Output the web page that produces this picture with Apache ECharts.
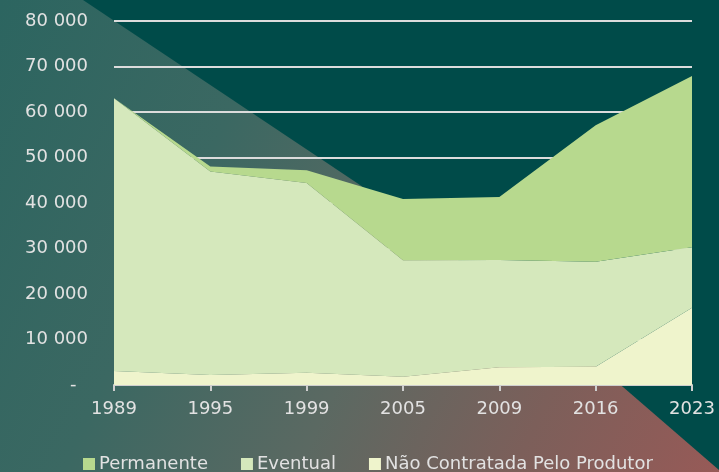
<!DOCTYPE html>
<html>
<head>
<meta charset="utf-8">
<script src="https://cdn.jsdelivr.net/npm/echarts@6/dist/echarts.min.js"></script>
<style>
html,body{margin:0;padding:0;width:719px;height:472px;overflow:hidden;background:#004b49;}
#bg{position:absolute;left:0;top:0;width:719px;height:472px;
 background:linear-gradient(115deg,#2c6560 0%,#3b6862 30%,#5b6962 55%,#7c5f5a 78%,#975a57 100%);
 clip-path:polygon(0 0,83px 0,360px 185px,623px 387px,719px 470px,719px 472px,0 472px);}
#chart{position:absolute;left:0;top:0;width:719px;height:472px;}
</style>
</head>
<body>
<div id="bg"></div>
<div id="chart"></div>
<script>
var categories = ['1989','1995','1999','2005','2009','2016','2023'];
var naoContratada = [3100, 2200, 2700, 1800, 3900, 4000, 17000];
var eventual = [59900, 44700, 41700, 25600, 23600, 23100, 13300];
var permanente = [0, 1100, 2800, 13500, 13800, 30000, 37600];
var seriesNames = ['Permanente', 'Eventual', 'Não Contratada Pelo Produtor'];
var colors = {perm:'#b7d98e', ev:'#d5e8bc', nc:'#eff4cc'};

var chart = echarts.init(document.getElementById('chart'), null, {renderer:'canvas'});
var font = '"DejaVu Sans", sans-serif';
function fmt(v){ if(v===0) return '-  '; return String(v).replace(/\B(?=(\d{3})+(?!\d))/g,' '); }
function area(name, data, color){
  return {name:name, type:'line', stack:'total', data:data, symbol:'none',
    lineStyle:{width:0}, itemStyle:{color:color}, areaStyle:{color:color, opacity:1}};
}
chart.setOption({
  backgroundColor:'transparent',
  animation:false,
  grid:{left:114, right:27, top:21, bottom:87},
  legend:{
    data:seriesNames, bottom:-1, left:83, icon:'rect', itemWidth:12, itemHeight:12,
    itemGap:33, padding:0, textStyle:{color:'#e2e2e2', fontSize:18, fontFamily:font, padding:[0,0,0,-1]}
  },
  xAxis:{type:'category', data:categories, boundaryGap:false,
    axisLine:{lineStyle:{color:'#cfcfcf', width:2}},
    axisTick:{show:true, length:6, lineStyle:{color:'#cfcfcf', width:2}},
    axisLabel:{color:'#e2e2e2', fontSize:18, fontFamily:font, margin:15}},
  yAxis:{type:'value', min:0, max:80000, interval:10000,
    axisLine:{show:false}, axisTick:{show:false},
    splitLine:{lineStyle:{color:'#dcdcdc', width:2}},
    axisLabel:{color:'#e2e2e2', fontSize:18, fontFamily:font, margin:26, formatter:fmt}},
  series:[
    area(seriesNames[2], naoContratada, colors.nc),
    area(seriesNames[1], eventual, colors.ev),
    area(seriesNames[0], permanente, colors.perm)
  ]
});
</script>
</body>
</html>
